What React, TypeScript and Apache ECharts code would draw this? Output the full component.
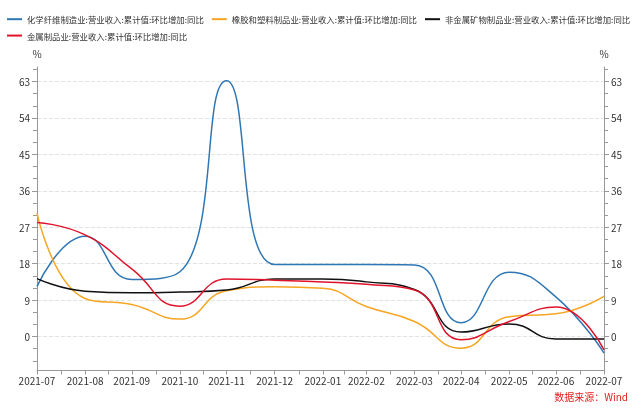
import React, { useEffect, useRef } from 'react';
import * as echarts from 'echarts';

const monthEnds = ['2021-07-31', '2021-08-31', '2021-09-30', '2021-10-31', '2021-11-30', '2021-12-31', '2022-01-31', '2022-02-28', '2022-03-31', '2022-04-30', '2022-05-31', '2022-06-30', '2022-07-31'];
const seriesNames = [
  '化学纤维制造业:营业收入:累计值:环比增加:同比',
  '橡胶和塑料制品业:营业收入:累计值:环比增加:同比',
  '非金属矿物制品业:营业收入:累计值:环比增加:同比',
  '金属制品业:营业收入:累计值:环比增加:同比',
];
const chemFiber = [12.4, 24.8, 14.1, 16.0, 63.2, 17.8, 17.8, 17.8, 17.7, 3.4, 15.9, 9.8, -4.1];
const rubberPlastic = [30.5, 9.4, 7.9, 4.3, 11.3, 12.3, 11.9, 7.4, 3.7, -2.9, 4.9, 5.6, 9.9];
const nonMetal = [14.3, 11.2, 10.8, 11.0, 11.5, 14.2, 14.2, 13.5, 11.6, 1.1, 3.1, -0.6, -0.6];
const metalProducts = [28.2, 25.1, 16.7, 7.5, 14.2, 13.9, 13.5, 12.9, 11.5, -0.8, 3.7, 7.3, -3.3];
const yTicks = [0, 9, 18, 27, 36, 45, 54, 63];
const yMinorTicks = [-6, -3, 3, 6, 12, 15, 21, 24, 30, 33, 39, 42, 48, 51, 57, 60, 66];
const colors = ['#2f77b4', '#f6a623', '#111111', '#e0132c'];
const sourceText = '数据来源：Wind';

const DAY = 86400000;
const toDay = (s: string) => {
  const [y, m, d] = s.split('-').map(Number);
  return Math.round(Date.UTC(y, m - 1, d) / DAY);
};
const fmtDay = (v: number) => {
  const d = new Date(Math.round(v) * DAY);
  return d.getUTCFullYear() + '-' + String(d.getUTCMonth() + 1).padStart(2, '0');
};

export default function App() {
  const ref = useRef<HTMLDivElement>(null);
  useEffect(() => {
    if (!ref.current) return;
    const chart = echarts.init(ref.current, undefined, { renderer: 'svg' });
    const xs = monthEnds.map(toDay);
    const mids: number[] = [];
    for (let i = 0; i < xs.length - 1; i++) mids.push((xs[i] + xs[i + 1]) / 2);
    const xTickValues = [...xs, ...mids].sort((a, b) => a - b);
    const all = [chemFiber, rubberPlastic, nonMetal, metalProducts];
    const font = '"Noto Sans CJK SC", "Noto Sans", sans-serif';
    const yMin = -8.4;
    const yMax = 66.6;
    const axisColor = '#999';
    const baseY = (pos: 'left' | 'right', split: boolean) => ({
      type: 'value',
      position: pos,
      min: yMin,
      max: yMax,
      name: '%',
      nameLocation: 'end',
      nameGap: 9,
      nameTextStyle: { color: '#333', fontSize: 10, fontFamily: font, align: 'center' },
      axisLine: { show: true, lineStyle: { color: axisColor } },
      axisTick: { show: true, length: 5, customValues: yTicks, lineStyle: { color: axisColor } },
      axisLabel: { show: true, customValues: yTicks, color: '#333', fontSize: 10, fontFamily: font, margin: 7 },
      splitLine: { show: split, lineStyle: { color: '#e3e3e3', type: 'dashed' } },
    });
    const minorY = (pos: 'left' | 'right') => ({
      type: 'value',
      position: pos,
      min: yMin,
      max: yMax,
      axisLine: { show: false },
      axisTick: { show: true, length: 4, customValues: yMinorTicks, lineStyle: { color: axisColor } },
      axisLabel: { show: false },
      splitLine: { show: false },
    });
    chart.setOption({
      animation: false,
      color: colors,
      legend: {
        left: 7,
        top: 15,
        width: 640,
        padding: 0,
        itemWidth: 15,
        itemHeight: 2,
        itemGap: 8,
        icon: 'rect',
        textStyle: { color: '#333', fontSize: 8.4, fontFamily: font },
        data: seriesNames,
      },
      grid: { left: 37, right: 37, top: 67, bottom: 37.5 },
      xAxis: {
        type: 'value',
        min: xs[0],
        max: xs[xs.length - 1],
        axisLine: { show: true, onZero: false, lineStyle: { color: axisColor } },
        axisTick: { show: true, length: 4, customValues: xTickValues, lineStyle: { color: axisColor } },
        axisLabel: {
          customValues: xs,
          color: '#333',
          fontSize: 10,
          fontFamily: font,
          margin: 5,
          formatter: (v: number) => fmtDay(v),
        },
        splitLine: { show: false },
      },
      yAxis: [baseY('left', true), baseY('right', false), minorY('left'), minorY('right')],
      graphic: [
        {
          type: 'text',
          right: 13,
          top: 391,
          style: { text: sourceText, fill: '#e0201f', fontSize: 10, fontFamily: font },
        },
      ],
      series: all.map((vals, i) => ({
        name: seriesNames[i],
        type: 'line',
        smooth: true,
        showSymbol: false,
        symbol: 'none',
        lineStyle: { width: 1.5, color: colors[i] },
        itemStyle: { color: colors[i] },
        data: vals.map((v, j) => [xs[j], v]),
      })),
    });
    return () => chart.dispose();
  }, []);
  return <div ref={ref} style={{ position: 'fixed', left: 0, top: 0, width: 641, height: 408 }} />;
}
